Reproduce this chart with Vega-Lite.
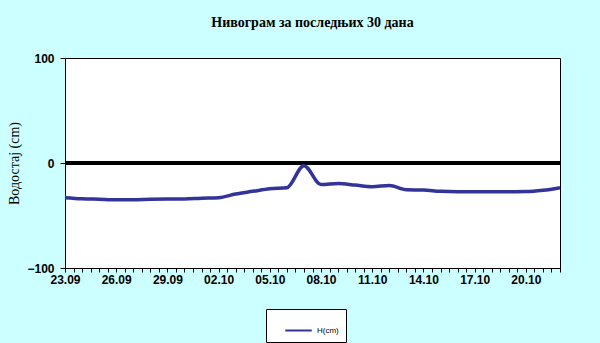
{
  "$schema": "https://vega.github.io/schema/vega-lite/v6.json",
  "autosize": "none",
  "width": 495,
  "height": 210,
  "padding": {"left": 65, "top": 58, "right": 40, "bottom": 75},
  "background": "#CCFFFF",
  "title": {
    "text": "Нивограм за последњих 30 дана",
    "font": "Liberation Serif",
    "fontSize": 14,
    "fontWeight": "bold",
    "color": "#000000",
    "anchor": "middle",
    "offset": 22
  },
  "config": {
    "view": {"stroke": "#000000", "strokeWidth": 1, "fill": "#FFFFFF"},
    "axis": {"grid": false, "domainColor": "#000000", "tickColor": "#000000", "labelColor": "#000000", "labelFont": "Liberation Sans", "labelFontWeight": "bold", "labelFontSize": 12}
  },
  "data": {
    "values": [
      {"date": "2023-09-23", "level": -33, "series": "H(cm)"},
      {"date": "2023-09-24", "level": -34, "series": "H(cm)"},
      {"date": "2023-09-25", "level": -34.5, "series": "H(cm)"},
      {"date": "2023-09-26", "level": -35, "series": "H(cm)"},
      {"date": "2023-09-27", "level": -35, "series": "H(cm)"},
      {"date": "2023-09-28", "level": -34.5, "series": "H(cm)"},
      {"date": "2023-09-29", "level": -34.3, "series": "H(cm)"},
      {"date": "2023-09-30", "level": -34.3, "series": "H(cm)"},
      {"date": "2023-10-01", "level": -33.5, "series": "H(cm)"},
      {"date": "2023-10-02", "level": -33, "series": "H(cm)"},
      {"date": "2023-10-03", "level": -29.5, "series": "H(cm)"},
      {"date": "2023-10-04", "level": -27, "series": "H(cm)"},
      {"date": "2023-10-05", "level": -24.5, "series": "H(cm)"},
      {"date": "2023-10-06", "level": -23.5, "series": "H(cm)"},
      {"date": "2023-10-07", "level": -2.5, "series": "H(cm)"},
      {"date": "2023-10-08", "level": -20.5, "series": "H(cm)"},
      {"date": "2023-10-09", "level": -19.5, "series": "H(cm)"},
      {"date": "2023-10-10", "level": -21, "series": "H(cm)"},
      {"date": "2023-10-11", "level": -22.5, "series": "H(cm)"},
      {"date": "2023-10-12", "level": -21.5, "series": "H(cm)"},
      {"date": "2023-10-13", "level": -25.5, "series": "H(cm)"},
      {"date": "2023-10-14", "level": -25.7, "series": "H(cm)"},
      {"date": "2023-10-15", "level": -27, "series": "H(cm)"},
      {"date": "2023-10-16", "level": -27.3, "series": "H(cm)"},
      {"date": "2023-10-17", "level": -27.3, "series": "H(cm)"},
      {"date": "2023-10-18", "level": -27.3, "series": "H(cm)"},
      {"date": "2023-10-19", "level": -27.3, "series": "H(cm)"},
      {"date": "2023-10-20", "level": -27.2, "series": "H(cm)"},
      {"date": "2023-10-21", "level": -26, "series": "H(cm)"},
      {"date": "2023-10-22", "level": -23.5, "series": "H(cm)"}
    ]
  },
  "layer": [
    {
      "mark": {"type": "rule", "color": "#000000", "strokeWidth": 3},
      "encoding": {"y": {"datum": 0, "type": "quantitative"}}
    },
    {
      "mark": {"type": "line", "strokeWidth": 3.5, "interpolate": "monotone"},
      "encoding": {
        "x": {
          "field": "date",
          "type": "temporal",
          "scale": {"type": "utc", "nice": false},
          "axis": {
            "title": null,
            "format": "%d.%m %H",
            "values": [
              {"year": 2023, "month": 9, "date": 23, "utc": true},
              {"year": 2023, "month": 9, "date": 23, "hours": 12, "utc": true},
              {"year": 2023, "month": 9, "date": 24, "utc": true},
              {"year": 2023, "month": 9, "date": 24, "hours": 12, "utc": true},
              {"year": 2023, "month": 9, "date": 25, "utc": true},
              {"year": 2023, "month": 9, "date": 25, "hours": 12, "utc": true},
              {"year": 2023, "month": 9, "date": 26, "utc": true},
              {"year": 2023, "month": 9, "date": 26, "hours": 12, "utc": true},
              {"year": 2023, "month": 9, "date": 27, "utc": true},
              {"year": 2023, "month": 9, "date": 27, "hours": 12, "utc": true},
              {"year": 2023, "month": 9, "date": 28, "utc": true},
              {"year": 2023, "month": 9, "date": 28, "hours": 12, "utc": true},
              {"year": 2023, "month": 9, "date": 29, "utc": true},
              {"year": 2023, "month": 9, "date": 29, "hours": 12, "utc": true},
              {"year": 2023, "month": 9, "date": 30, "utc": true},
              {"year": 2023, "month": 9, "date": 30, "hours": 12, "utc": true},
              {"year": 2023, "month": 10, "date": 1, "utc": true},
              {"year": 2023, "month": 10, "date": 1, "hours": 12, "utc": true},
              {"year": 2023, "month": 10, "date": 2, "utc": true},
              {"year": 2023, "month": 10, "date": 2, "hours": 12, "utc": true},
              {"year": 2023, "month": 10, "date": 3, "utc": true},
              {"year": 2023, "month": 10, "date": 3, "hours": 12, "utc": true},
              {"year": 2023, "month": 10, "date": 4, "utc": true},
              {"year": 2023, "month": 10, "date": 4, "hours": 12, "utc": true},
              {"year": 2023, "month": 10, "date": 5, "utc": true},
              {"year": 2023, "month": 10, "date": 5, "hours": 12, "utc": true},
              {"year": 2023, "month": 10, "date": 6, "utc": true},
              {"year": 2023, "month": 10, "date": 6, "hours": 12, "utc": true},
              {"year": 2023, "month": 10, "date": 7, "utc": true},
              {"year": 2023, "month": 10, "date": 7, "hours": 12, "utc": true},
              {"year": 2023, "month": 10, "date": 8, "utc": true},
              {"year": 2023, "month": 10, "date": 8, "hours": 12, "utc": true},
              {"year": 2023, "month": 10, "date": 9, "utc": true},
              {"year": 2023, "month": 10, "date": 9, "hours": 12, "utc": true},
              {"year": 2023, "month": 10, "date": 10, "utc": true},
              {"year": 2023, "month": 10, "date": 10, "hours": 12, "utc": true},
              {"year": 2023, "month": 10, "date": 11, "utc": true},
              {"year": 2023, "month": 10, "date": 11, "hours": 12, "utc": true},
              {"year": 2023, "month": 10, "date": 12, "utc": true},
              {"year": 2023, "month": 10, "date": 12, "hours": 12, "utc": true},
              {"year": 2023, "month": 10, "date": 13, "utc": true},
              {"year": 2023, "month": 10, "date": 13, "hours": 12, "utc": true},
              {"year": 2023, "month": 10, "date": 14, "utc": true},
              {"year": 2023, "month": 10, "date": 14, "hours": 12, "utc": true},
              {"year": 2023, "month": 10, "date": 15, "utc": true},
              {"year": 2023, "month": 10, "date": 15, "hours": 12, "utc": true},
              {"year": 2023, "month": 10, "date": 16, "utc": true},
              {"year": 2023, "month": 10, "date": 16, "hours": 12, "utc": true},
              {"year": 2023, "month": 10, "date": 17, "utc": true},
              {"year": 2023, "month": 10, "date": 17, "hours": 12, "utc": true},
              {"year": 2023, "month": 10, "date": 18, "utc": true},
              {"year": 2023, "month": 10, "date": 18, "hours": 12, "utc": true},
              {"year": 2023, "month": 10, "date": 19, "utc": true},
              {"year": 2023, "month": 10, "date": 19, "hours": 12, "utc": true},
              {"year": 2023, "month": 10, "date": 20, "utc": true},
              {"year": 2023, "month": 10, "date": 20, "hours": 12, "utc": true},
              {"year": 2023, "month": 10, "date": 21, "utc": true},
              {"year": 2023, "month": 10, "date": 21, "hours": 12, "utc": true},
              {"year": 2023, "month": 10, "date": 22, "utc": true}
            ],
            "labelExpr": "slice(datum.label, 6) == '00' && indexof(['23.09','26.09','29.09','02.10','05.10','08.10','11.10','14.10','17.10','20.10'], slice(datum.label, 0, 5)) >= 0 ? slice(datum.label, 0, 5) : ''",
            "labelOverlap": false,
            "labelBound": false,
            "labelFlush": false,
            "tickSize": 4,
            "labelPadding": 2
          }
        },
        "y": {
          "field": "level",
          "type": "quantitative",
          "scale": {"domain": [-100, 100], "nice": false},
          "axis": {
            "values": [-100, 0, 100],
            "title": "Водостај (cm)",
            "titleFont": "Liberation Serif",
            "titleFontSize": 14,
            "titleFontWeight": "normal",
            "titleColor": "#000000",
            "titlePadding": 5,
            "tickSize": 5,
            "labelPadding": 6
          }
        },
        "color": {
          "field": "series",
          "type": "nominal",
          "scale": {"range": ["#333399"]},
          "legend": {
            "title": null,
            "orient": "none",
            "legendX": 201,
            "legendY": 251,
            "fillColor": "#FFFFFF",
            "strokeColor": "#000000",
            "padding": 7,
            "symbolOffset": 11,
            "symbolType": "stroke",
            "symbolStrokeWidth": 2,
            "symbolSize": 700,
            "labelFont": "Liberation Sans",
            "labelFontSize": 8,
            "labelColor": "#000000",
            "labelOffset": 4
          }
        }
      }
    }
  ]
}
